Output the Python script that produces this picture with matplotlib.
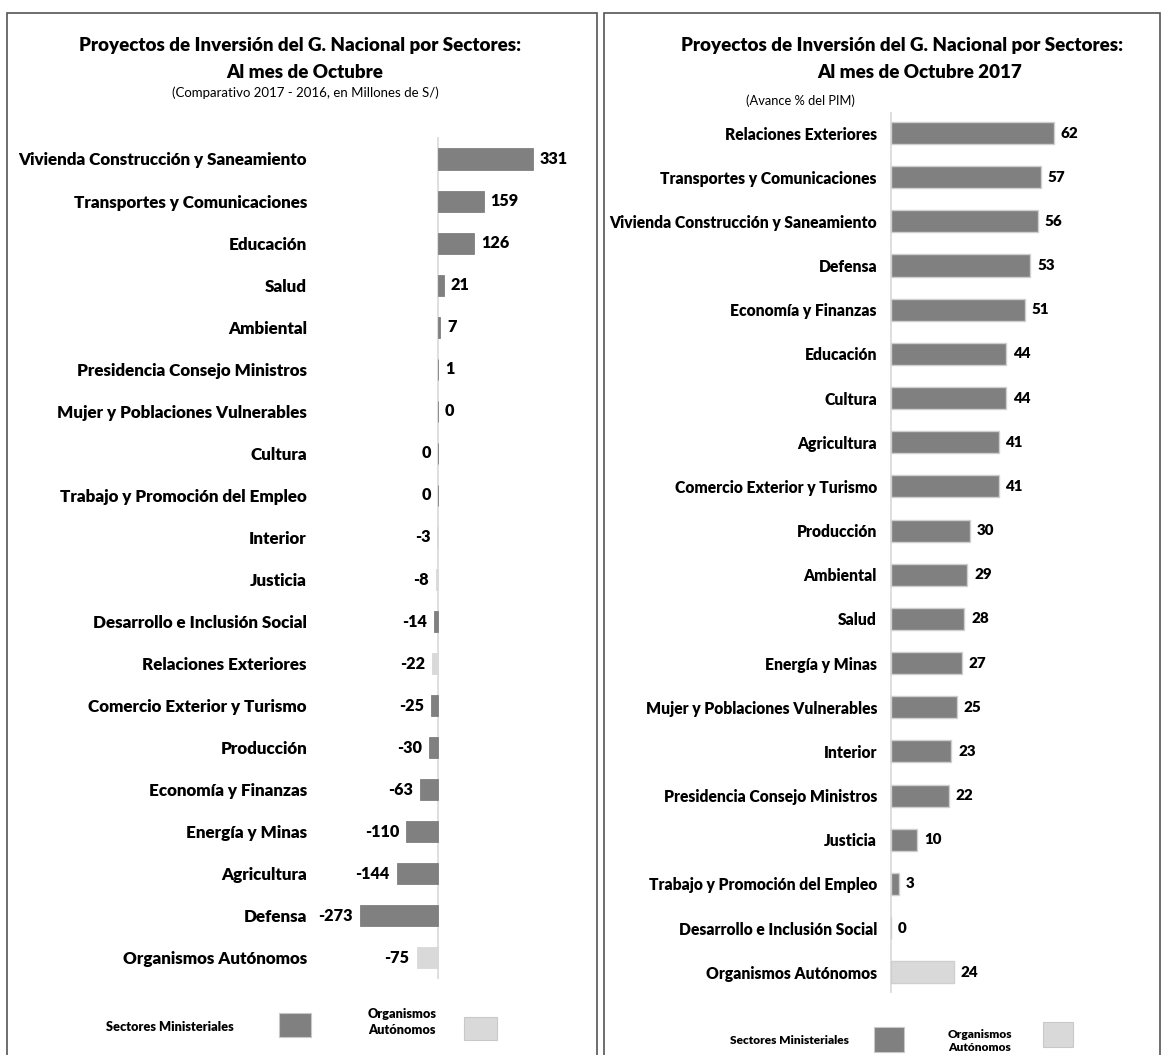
import matplotlib
matplotlib.use("Agg")
import matplotlib.pyplot as plt
from matplotlib.patches import Rectangle
from matplotlib import font_manager as fm
from matplotlib.textpath import TextPath

# ---------------- data ----------------
left_categories = [
    "Vivienda Construcción y Saneamiento", "Transportes y Comunicaciones", "Educación",
    "Salud", "Ambiental", "Presidencia Consejo Ministros", "Mujer y Poblaciones Vulnerables",
    "Cultura", "Trabajo y Promoción del Empleo", "Interior", "Justicia",
    "Desarrollo e Inclusión Social", "Relaciones Exteriores", "Comercio Exterior y Turismo",
    "Producción", "Economía y Finanzas", "Energía y Minas", "Agricultura", "Defensa",
    "Organismos Autónomos",
]
left_values = [331, 159, 126, 21, 7, 1, 0, -0.4, -0.4, -3, -8, -14, -22, -25, -30,
               -63, -110, -144, -273, -75]
left_groups = ["S", "S", "S", "S", "S", "S", "S", "S", "S", "O", "O", "S", "O", "S", "S",
               "S", "S", "S", "S", "O"]

right_categories = [
    "Relaciones Exteriores", "Transportes y Comunicaciones", "Vivienda Construcción y Saneamiento",
    "Defensa", "Economía y Finanzas", "Educación", "Cultura", "Agricultura",
    "Comercio Exterior y Turismo", "Producción", "Ambiental", "Salud", "Energía y Minas",
    "Mujer y Poblaciones Vulnerables", "Interior", "Presidencia Consejo Ministros", "Justicia",
    "Trabajo y Promoción del Empleo", "Desarrollo e Inclusión Social", "Organismos Autónomos",
]
right_values = [62, 57, 56, 53, 51, 44, 44, 41, 41, 30, 29, 28, 27, 25, 23, 22, 10, 3, 0, 24]
right_groups = ["S"] * 19 + ["O"]

title_line1 = "Proyectos de Inversión del G. Nacional por Sectores:"
left_title2 = "Al mes de Octubre"
left_subtitle = "(Comparativo 2017 - 2016, en Millones de S/)"
right_title2 = "Al mes de Octubre 2017"
right_subtitle = "(Avance % del PIM)"
legend_labels = ["Sectores Ministeriales", "Organismos\nAutónomos"]

DARK = "#808080"
LIGHT = "#d9d9d9"
group_color = {"S": DARK, "O": LIGHT}

# Lato is the design that Carlito (the Calibri clone) derives from
FB = fm.FontProperties(family=["Lato", "DejaVu Sans"], weight=800)
FR = fm.FontProperties(family=["Lato", "DejaVu Sans"], weight="normal")


def fit(text, prop, target_px):
    """font size (pt) so that the text is target_px wide at 100 dpi"""
    w = TextPath((0, 0), text, size=10, prop=prop).get_extents().width
    return 10 * target_px / (w * 100 / 72)


W, H = 1164, 1055
fig = plt.figure(figsize=(W / 100, H / 100), dpi=100)
fig.patch.set_facecolor("white")


def px_rect(x0, y0, x1, y1):
    return [x0 / W, 1 - y1 / H, (x1 - x0) / W, (y1 - y0) / H]


# panel borders
for (x0, y0, x1) in [(7, 13, 597), (604, 13, 1160)]:
    fig.patches.append(Rectangle((x0 / W, -0.01), (x1 - x0) / W, 1 - y0 / H + 0.01,
                                 transform=fig.transFigure, fill=False,
                                 edgecolor="#555555", linewidth=1.2))


def draw_panel(ax, cats, vals, groups, height, edge, pad_pt, lab_fs, val_fs):
    ys = list(range(len(cats)))
    colors = [group_color[g] for g in groups]
    ax.barh(ys, vals, height=height, color=colors,
            edgecolor=edge if edge else colors, linewidth=1.0 if edge else 0.6)
    ax.axvline(0, color="#d9d9d9", linewidth=1.2, zorder=0)
    for s in ax.spines.values():
        s.set_visible(False)
    ax.set_yticks(ys)
    ax.set_yticklabels(cats)
    for t in ax.get_yticklabels():
        t.set_fontproperties(FB)
        t.set_fontsize(lab_fs)
    ax.tick_params(axis="y", length=0, pad=pad_pt)
    ax.set_xticks([])
    for y, v in zip(ys, vals):
        txt = f"{round(v):d}"
        off, ha = (5, "left") if v >= 0 else (-5, "right")
        ax.annotate(txt, (v, y), xytext=(off, 0), textcoords="offset points",
                    ha=ha, va="center", fontproperties=FB, fontsize=val_fs)


# ---------------- left panel ----------------
axL = fig.add_axes(px_rect(340, 137, 590, 979))
draw_panel(axL, left_categories, left_values, left_groups, 0.5, None, 33 * 0.72,
           fit("Vivienda Construcción y Saneamiento", FB, 290), fit("331", FB, 27))
axL.set_xlim(-342.1, 530.5)
axL.set_ylim(19.5, -0.523)

t_fs = fit(title_line1, FB, 440)
fig.text(300 / W, 1 - 46 / H, title_line1, ha="center", va="center",
         fontproperties=FB, fontsize=t_fs)
fig.text(305 / W, 1 - 72 / H, left_title2, ha="center", va="center",
         fontproperties=FB, fontsize=t_fs)
fig.text(305 / W, 1 - 93 / H, left_subtitle, ha="center", va="center",
         fontproperties=FR, fontsize=fit(left_subtitle, FR, 266))

# ---------------- right panel ----------------
axR = fig.add_axes(px_rect(885, 112, 1150, 993))
draw_panel(axR, right_categories, right_values, right_groups, 0.5, "#cfcfcf", 8 * 0.72,
           fit("Vivienda Construcción y Saneamiento", FB, 267), fit("62", FB, 16.5))
axR.set_xlim(-2.29, 98.7)
axR.set_ylim(19.47, -0.476)

fig.text(902 / W, 1 - 46 / H, title_line1, ha="center", va="center",
         fontproperties=FB, fontsize=t_fs)
fig.text(920 / W, 1 - 72 / H, right_title2, ha="center", va="center",
         fontproperties=FB, fontsize=t_fs)
fig.text(800 / W, 1 - 101 / H, right_subtitle, ha="center", va="center",
         fontproperties=FR, fontsize=fit(right_subtitle, FR, 108))


# ---------------- legends ----------------
def legend_box(x0, y0, x1, y1, color):
    fig.patches.append(Rectangle((x0 / W, 1 - y1 / H), (x1 - x0) / W, (y1 - y0) / H,
                                 transform=fig.transFigure, facecolor=color,
                                 edgecolor="#c8c8c8", linewidth=0.8))


lg_fs = fit(legend_labels[0], FB, 127)
fig.text(170 / W, 1 - 1027 / H, legend_labels[0], ha="center", va="center",
         fontproperties=FB, fontsize=lg_fs)
legend_box(279, 1013, 311, 1037, DARK)
fig.text(402 / W, 1 - 1022 / H, legend_labels[1], ha="center", va="center",
         fontproperties=FB, fontsize=lg_fs, linespacing=1.3)
legend_box(464, 1017, 497, 1040, LIGHT)

lg_fs2 = fit(legend_labels[0], FB, 118)
fig.text(789 / W, 1 - 1041 / H, legend_labels[0], ha="center", va="center",
         fontproperties=FB, fontsize=lg_fs2)
legend_box(874, 1027, 904, 1052, DARK)
fig.text(980 / W, 1 - 1041 / H, legend_labels[1], ha="center", va="center",
         fontproperties=FB, fontsize=lg_fs2, linespacing=1.2)
legend_box(1043, 1022, 1073, 1047, LIGHT)

fig.savefig("out.png", dpi=100, facecolor="white")
